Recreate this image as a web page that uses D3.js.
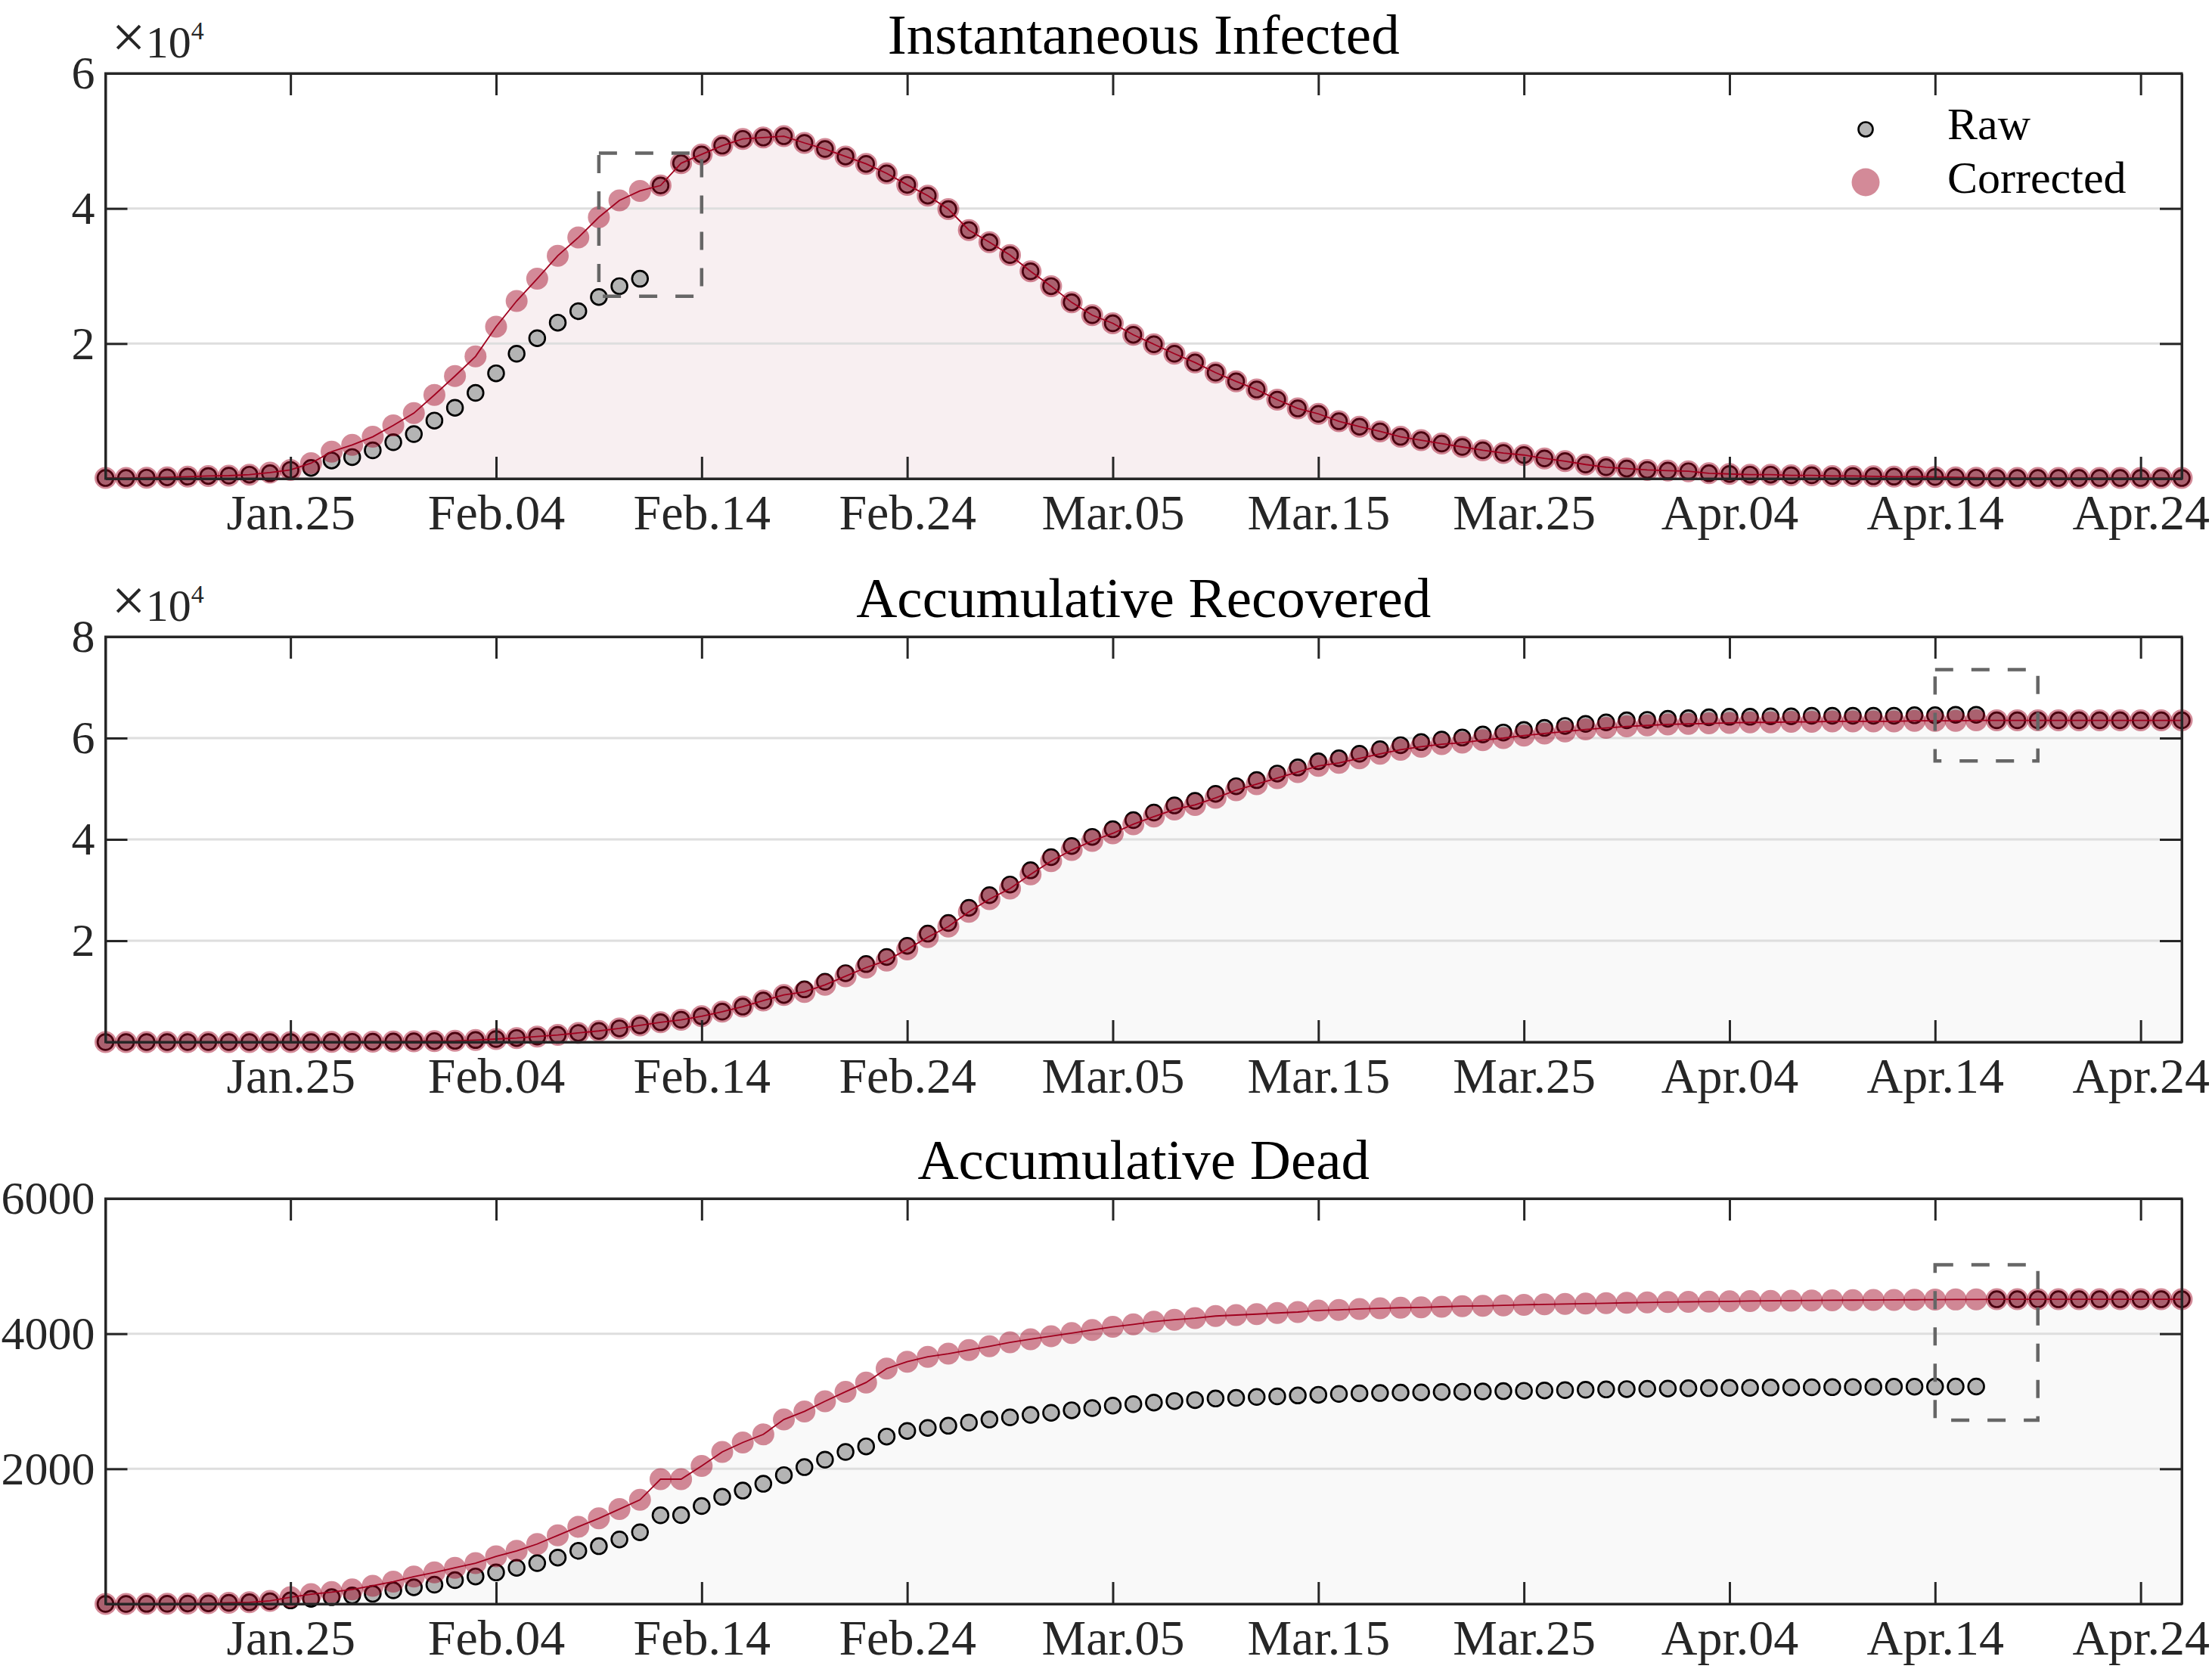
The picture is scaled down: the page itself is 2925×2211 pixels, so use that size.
<!DOCTYPE html>
<html>
<head>
<meta charset="utf-8">
<script src="https://cdn.jsdelivr.net/npm/d3@7"></script>
<style>
  html, body { margin: 0; padding: 0; background: #fff; }
  svg { display: block; }
</style>
</head>
<body>
<div id="chart"></div>
<script>
// ── Data ─────────────────────────────────────────────
// one point per day, 2020-01-16 .. 2020-04-26 (102 days)
const startDate = "2020-01-16";
const dayCount = 102;

const xTickDates  = ["2020-01-25","2020-02-04","2020-02-14","2020-02-24","2020-03-05",
                     "2020-03-15","2020-03-25","2020-04-04","2020-04-14","2020-04-24"];
const xTickLabels = ["Jan.25","Feb.04","Feb.14","Feb.24","Mar.05",
                     "Mar.15","Mar.25","Apr.04","Apr.14","Apr.24"];

const panelTitles = ["Instantaneous Infected", "Accumulative Recovered", "Accumulative Dead"];
const legendLabels = ["Raw", "Corrected"];

// Instantaneous infected
const infectedRaw = [
  100,100,150,200,300,400,450,600,800,1300,
  1600,2700,3200,4200,5400,6600,8600,10500,12700,15600,
  18500,20800,23100,24800,26900,28500,29600,43400,46700,48000,
  49300,50300,50500,50700,49700,48800,47700,46600,45200,43500,
  41900,39900,36800,35000,33100,30700,28500,26100,24200,23000,
  21300,19900,18500,17200,15700,14400,13200,11700,10400,9600,
  8500,7700,7000,6200,5700,5200,4700,4200,3800,3500,
  3000,2600,2100,1700,1500,1300,1200,1100,800,700,
  600,600,500,500,400,400,350,300,300,250,
  200,150,100,100,100,100,100,100,100,100,
  100,100
];
const infectedCorrected = [
  100,100,150,200,300,400,450,600,900,1300,
  2300,4000,5000,6200,7900,9700,12400,15200,18100,22500,
  26300,29600,33000,35700,38700,41200,42600,43400,46700,48000,
  49300,50300,50500,50700,49700,48800,47700,46600,45200,43500,
  41900,39900,36800,35000,33100,30700,28500,26100,24200,23000,
  21300,19900,18500,17200,15700,14400,13200,11700,10400,9600,
  8500,7700,7000,6200,5700,5200,4700,4200,3800,3500,
  3000,2600,2100,1700,1500,1300,1200,1100,800,700,
  600,600,500,500,400,400,350,300,300,250,
  200,150,100,100,100,100,100,100,100,100,
  100,100
];
const infectedTicks = [20000, 40000, 60000];
const infectedTickLabels = ["2", "4", "6"];
const infectedBox = { from: "2020-02-09", to: "2020-02-14", low: 27000, high: 48200 };

// Accumulative recovered
const recoveredRaw = [
  0,0,0,0,0,0,0,0,0,0,
  0,30,50,80,100,150,200,250,400,600,
  800,1100,1400,1800,2200,2700,3300,3900,4400,5100,
  6000,7000,8200,9300,10400,11900,13600,15400,16800,19000,
  21400,23500,26500,29000,31100,33900,36500,38700,40500,42000,
  43800,45300,46700,47600,49000,50500,51700,53000,54200,55400,
  56000,56900,57800,58600,59200,59700,60100,60700,61100,61600,
  62000,62400,62800,63100,63500,63600,63800,63900,64100,64200,
  64200,64300,64300,64400,64400,64400,64400,64400,64500,64500,
  64600,64600,63500,63500,63500,63500,63500,63500,63500,63500,
  63500,63500
];
const recoveredCorrected = [
  0,0,0,0,0,0,0,0,0,0,
  0,30,50,80,100,150,200,250,400,600,
  800,1100,1400,1800,2200,2700,3300,3900,4400,5100,
  6000,7000,8200,9300,9900,11300,13000,14700,16100,18300,
  20700,22800,25700,28200,30300,33100,35700,37900,39700,41200,
  43000,44500,45900,46800,48200,49700,50900,52100,53300,54500,
  55100,56000,56900,57700,58300,58800,59100,59600,60000,60500,
  60900,61300,61700,62000,62300,62500,62700,62800,62900,63000,
  63100,63100,63200,63200,63300,63300,63300,63300,63400,63400,
  63400,63500,63500,63500,63500,63500,63500,63500,63500,63500,
  63500,63500
];
const recoveredTicks = [20000, 40000, 60000, 80000];
const recoveredTickLabels = ["2", "4", "6", "8"];
const recoveredBox = { from: "2020-04-14", to: "2020-04-19", low: 55500, high: 73500 };

// Accumulative dead
const deadRaw = [
  0,0,2,3,6,9,17,24,39,52,
  76,100,125,150,201,247,285,352,407,466,
  535,604,686,786,855,955,1061,1312,1315,1449,
  1586,1678,1779,1907,2025,2135,2250,2332,2478,2561,
  2606,2638,2684,2730,2762,2798,2830,2867,2899,2936,
  2958,2981,3004,3018,3041,3050,3064,3073,3086,3096,
  3109,3118,3122,3128,3132,3137,3141,3145,3150,3155,
  3160,3165,3170,3175,3180,3184,3188,3192,3195,3198,
  3200,3203,3205,3207,3209,3211,3213,3215,3216,3217,
  3218,3219,4510,4510,4510,4510,4510,4510,4510,4510,
  4510,4510
];
const deadCorrected = [
  0,0,2,3,6,10,17,24,45,100,
  145,175,215,270,330,405,466,535,604,704,
  786,887,1015,1143,1267,1404,1541,1847,1847,2044,
  2250,2390,2510,2730,2850,3000,3141,3278,3484,3585,
  3658,3704,3759,3813,3873,3919,3964,4010,4056,4102,
  4138,4179,4207,4230,4262,4276,4290,4307,4321,4344,
  4353,4367,4376,4385,4390,4399,4408,4412,4420,4428,
  4435,4440,4446,4452,4458,4463,4468,4472,4476,4480,
  4484,4487,4490,4493,4495,4497,4499,4501,4503,4505,
  4507,4508,4510,4510,4510,4510,4510,4510,4510,4510,
  4510,4510
];
const deadTicks = [2000, 4000, 6000];
const deadTickLabels = ["2000", "4000", "6000"];
const deadBox = { from: "2020-04-14", to: "2020-04-19", low: 2720, high: 5020 };

// ── Layout ────────────────────────────────────────────
const W = 2925, H = 2211;
const plotLeft = 139.5, plotRight = 2885;
const panelTops = [97, 842, 1585];
const panelH = 536;
const tickLen = 29;

const ink = "#262626";
const rawFill = "#b4b4b4";
const corrColor = "#a0001e";
const FONT = "'Liberation Serif', 'Times New Roman', serif";

const parseDate = d3.timeParse("%Y-%m-%d");
const day0 = parseDate(startDate);
const dates = d3.range(dayCount).map(i => d3.timeDay.offset(day0, i));

const panels = [
  { title: panelTitles[0], raw: infectedRaw,  corr: infectedCorrected,  yMax: 60000,
    ticks: infectedTicks,  labels: infectedTickLabels,  exp: "4", fill: "#f8eff1",
    box: infectedBox, legend: true },
  { title: panelTitles[1], raw: recoveredRaw, corr: recoveredCorrected, yMax: 80000,
    ticks: recoveredTicks, labels: recoveredTickLabels, exp: "4", fill: "#f9f9f9",
    box: recoveredBox, legend: false },
  { title: panelTitles[2], raw: deadRaw,      corr: deadCorrected,      yMax: 6000,
    ticks: deadTicks,      labels: deadTickLabels,      exp: null, fill: "#f9f9f9",
    box: deadBox, legend: false },
];

const svg = d3.select("#chart").append("svg")
  .attr("width", W)
  .attr("height", H)
  .style("font-family", FONT)
  .style("background", "#fff");

const x = d3.scaleTime()
  .domain([dates[0], dates[dates.length - 1]])
  .range([plotLeft, plotRight]);

const xTicks = xTickDates.map(parseDate);

function styleAxis(sel, fs) {
  sel.select(".domain").attr("stroke", ink).attr("stroke-width", 3);
  sel.selectAll(".tick line").attr("stroke", ink).attr("stroke-width", 3);
  sel.selectAll(".tick text").attr("fill", ink).attr("font-size", fs || 66).attr("font-family", FONT);
}

panels.forEach((p, pi) => {
  const top = panelTops[pi];
  const bottom = top + panelH;
  const y = d3.scaleLinear().domain([0, p.yMax]).range([bottom, top]);
  const g = svg.append("g");

  // area under corrected curve
  g.append("path")
    .datum(p.corr)
    .attr("fill", p.fill)
    .attr("d", d3.area()
      .x((d, j) => x(dates[j]))
      .y0(y(0))
      .y1(d => y(d)));

  // grid
  g.selectAll(".grid")
    .data(p.ticks.filter(t => t < p.yMax))
    .join("line")
    .attr("class", "grid")
    .attr("x1", plotLeft).attr("x2", plotRight)
    .attr("y1", d => y(d)).attr("y2", d => y(d))
    .attr("stroke", "#dedede")
    .attr("stroke-width", 3);

  // raw markers
  g.selectAll(".raw")
    .data(p.raw)
    .join("circle")
    .attr("class", "raw")
    .attr("cx", (d, j) => x(dates[j]))
    .attr("cy", d => y(d))
    .attr("r", 10.4)
    .attr("fill", rawFill)
    .attr("stroke", "#000")
    .attr("stroke-width", 2.7);

  // corrected markers
  g.selectAll(".corr")
    .data(p.corr)
    .join("circle")
    .attr("class", "corr")
    .attr("cx", (d, j) => x(dates[j]))
    .attr("cy", d => y(d))
    .attr("r", 14.5)
    .attr("fill", corrColor)
    .attr("fill-opacity", 0.46);

  // corrected line
  g.append("path")
    .datum(p.corr)
    .attr("fill", "none")
    .attr("stroke", corrColor)
    .attr("stroke-width", 1.8)
    .attr("d", d3.line()
      .x((d, j) => x(dates[j]))
      .y(d => y(d)));

  // dashed highlight box
  const bx0 = x(parseDate(p.box.from)), bx1 = x(parseDate(p.box.to));
  const by0 = y(p.box.high), by1 = y(p.box.low);
  g.append("rect")
    .attr("x", bx0).attr("y", by0)
    .attr("width", bx1 - bx0).attr("height", by1 - by0)
    .attr("fill", "none")
    .attr("stroke", "#666")
    .attr("stroke-width", 4.5)
    .attr("stroke-dasharray", "24,24");

  // axes (ticks point inward on all four sides)
  const gb = g.append("g").attr("transform", `translate(0,${bottom})`)
    .call(d3.axisBottom(x).tickValues(xTicks)
      .tickFormat((d, k) => xTickLabels[k])
      .tickSizeInner(-tickLen).tickSizeOuter(0));
  styleAxis(gb, 66);
  gb.selectAll(".tick text").attr("y", 67).attr("dy", 0);

  const gt = g.append("g").attr("transform", `translate(0,${top})`)
    .call(d3.axisTop(x).tickValues(xTicks).tickFormat("")
      .tickSizeInner(-tickLen).tickSizeOuter(0));
  styleAxis(gt);

  const gl = g.append("g").attr("transform", `translate(${plotLeft},0)`)
    .call(d3.axisLeft(y).tickValues(p.ticks)
      .tickFormat((d, k) => p.labels[k])
      .tickSizeInner(-tickLen).tickSizeOuter(0).tickPadding(14));
  styleAxis(gl, 62);

  const gr = g.append("g").attr("transform", `translate(${plotRight},0)`)
    .call(d3.axisRight(y).tickValues(p.ticks).tickFormat("")
      .tickSizeInner(-tickLen).tickSizeOuter(0));
  styleAxis(gr);

  g.append("rect")
    .attr("x", plotLeft).attr("y", top)
    .attr("width", plotRight - plotLeft).attr("height", panelH)
    .attr("fill", "none")
    .attr("stroke", ink)
    .attr("stroke-width", 3);

  // title
  g.append("text")
    .attr("x", (plotLeft + plotRight) / 2)
    .attr("y", top - 26)
    .attr("text-anchor", "middle")
    .attr("font-size", 75)
    .attr("fill", "#000")
    .text(p.title);

  // ×10^4 multiplier
  if (p.exp) {
    const t = g.append("text")
      .attr("x", plotLeft + 8)
      .attr("y", top - 21)
      .attr("font-size", 60)
      .attr("fill", ink);
    t.append("tspan").attr("font-size", 80).text("\u00d7");
    t.append("tspan").text("10");
    t.append("tspan").attr("font-size", 34).attr("dy", -24).text(p.exp);
  }

  // legend
  if (p.legend) {
    const lx = plotRight - 418;
    g.append("circle")
      .attr("cx", lx).attr("cy", top + 74).attr("r", 9.5)
      .attr("fill", rawFill).attr("stroke", "#000").attr("stroke-width", 2.6);
    g.append("circle")
      .attr("cx", lx).attr("cy", top + 144).attr("r", 18.5)
      .attr("fill", corrColor).attr("fill-opacity", 0.46);
    g.append("text")
      .attr("x", lx + 108).attr("y", top + 87)
      .attr("font-size", 60).attr("fill", "#000")
      .text(legendLabels[0]);
    g.append("text")
      .attr("x", lx + 108).attr("y", top + 158)
      .attr("font-size", 60).attr("fill", "#000")
      .text(legendLabels[1]);
  }
});
</script>
</body>
</html>
